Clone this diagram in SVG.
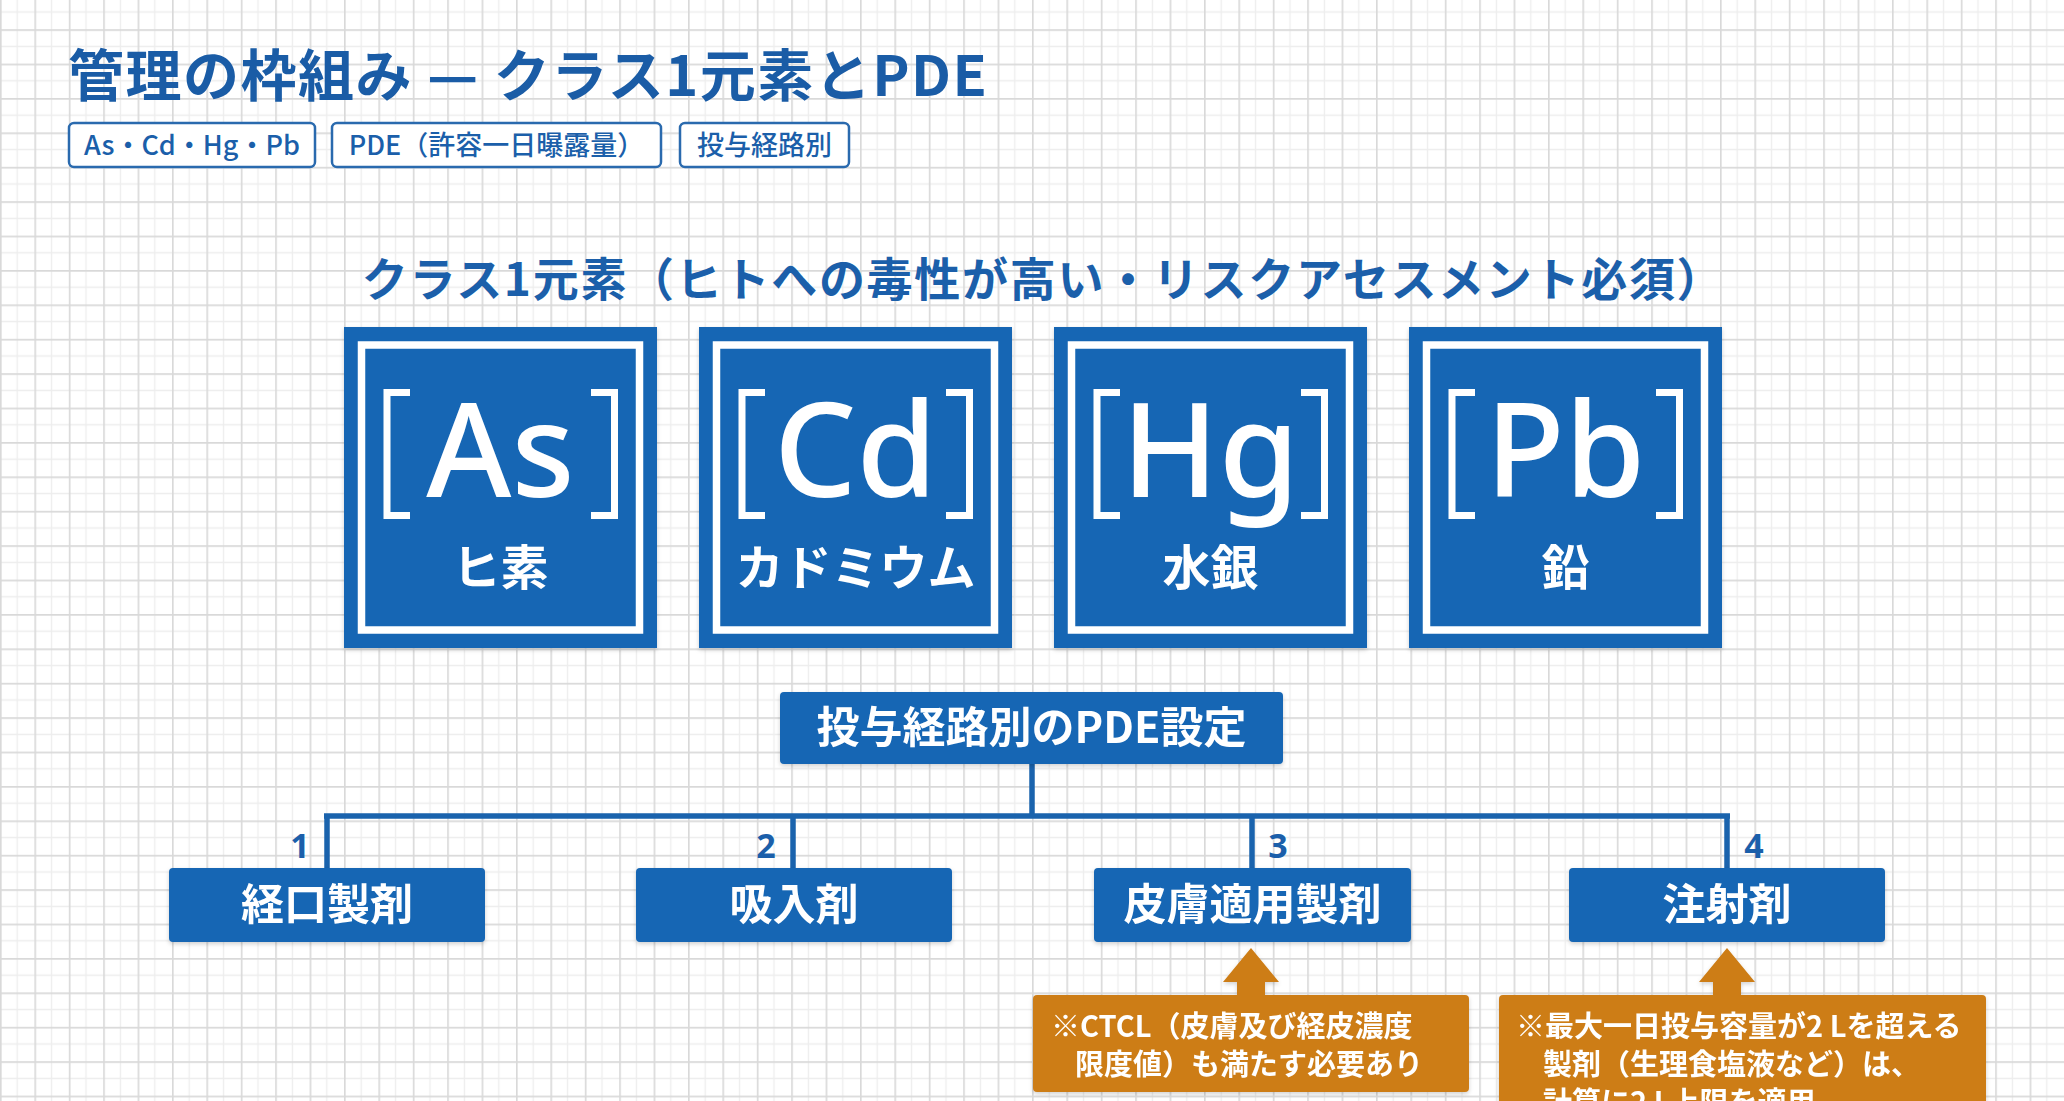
<svg xmlns="http://www.w3.org/2000/svg" width="2064" height="1101" viewBox="0 0 2064 1101">
<defs>
<pattern id="grid" x="0" y="29.2" width="34.4" height="34.4" patternUnits="userSpaceOnUse">
<path d="M17.2 0V34.4M0 17.2H34.4" stroke="#ededed" stroke-width="1.3" fill="none"/>
<path d="M0.8 0V34.4M0 0.8H34.4" stroke="#d9d9d9" stroke-width="1.7" fill="none"/>
</pattern>
<filter id="sh" x="-5%" y="-5%" width="110%" height="120%">
<feDropShadow dx="0" dy="2" stdDeviation="2" flood-color="#000" flood-opacity="0.18"/>
</filter>
<style>
.jp{font-family:"Noto Sans CJK JP","Noto Sans",sans-serif}
.title{font-size:56px;font-weight:700;fill:#1a5ca6;letter-spacing:1.5px}
.tag rect{fill:#fff;stroke:#2a6aae;stroke-width:2.5}
.tag text{font-size:27px;font-weight:500;fill:#1b5faa;text-anchor:middle}
.sub{font-size:46px;font-weight:700;fill:#1b5faa;text-anchor:middle;letter-spacing:1.7px}
.card .bg{fill:#1666b4}
.card .in{fill:none;stroke:#fff;stroke-width:7.5}
.card .br{fill:none;stroke:#fff;stroke-width:7;stroke-linejoin:miter}
.sym{font-family:"Noto Sans","Liberation Sans",sans-serif;font-size:130px;font-weight:500;fill:#fff;text-anchor:middle}
.nm{font-size:48px;font-weight:700;fill:#fff;text-anchor:middle}
.box rect{fill:#1666b4}
.box text{font-size:43px;font-weight:700;fill:#fff;text-anchor:middle}
.num{font-family:"Noto Sans","Liberation Sans",sans-serif;font-size:34px;font-weight:700;fill:#1b5faa;text-anchor:middle}
.conn line{stroke:#1a63ad;stroke-width:5.5}
.note rect,.note polygon{fill:#cd7d16}
.note text{font-size:29px;font-weight:700;fill:#fff}
</style>
</defs>
<rect width="2064" height="1101" fill="#fff"/>
<rect width="2064" height="1101" fill="url(#grid)"/>

<g id="title">
<text class="jp title" x="68" y="96">管理の枠組み — クラス1元素とPDE</text>
</g>
<g id="tag-elements" class="tag jp">
<rect x="69" y="123" width="246" height="44" rx="5"/>
<text x="192" y="155">As・Cd・Hg・Pb</text>
</g>
<g id="tag-pde" class="tag jp">
<rect x="332" y="123" width="329" height="44" rx="5"/>
<text x="496.5" y="155">PDE（許容一日曝露量）</text>
</g>
<g id="tag-route" class="tag jp">
<rect x="680" y="123" width="169" height="44" rx="5"/>
<text x="764.5" y="155">投与経路別</text>
</g>

<g id="subtitle">
<text class="jp sub" x="1043" y="296">クラス1元素（ヒトへの毒性が高い・リスクアセスメント必須）</text>
</g>

<g id="card-as" class="card" filter="url(#sh)">
<rect class="bg" x="344" y="327" width="313" height="321"/>
<rect class="in" x="361.5" y="345" width="278" height="285"/>
<polyline class="br" points="410,392.5 387,392.5 387,515.5 410,515.5"/>
<polyline class="br" points="591,392.5 614.5,392.5 614.5,515.5 591,515.5"/>
<text class="sym" x="500.5" y="497">As</text>
<text class="jp nm" x="500.5" y="585">ヒ素</text>
</g>
<g id="card-cd" class="card" filter="url(#sh)">
<rect class="bg" x="699" y="327" width="313" height="321"/>
<rect class="in" x="716.5" y="345" width="278" height="285"/>
<polyline class="br" points="765,392.5 742,392.5 742,515.5 765,515.5"/>
<polyline class="br" points="946,392.5 969.5,392.5 969.5,515.5 946,515.5"/>
<text class="sym" x="855.5" y="497">Cd</text>
<text class="jp nm" x="855.5" y="585">カドミウム</text>
</g>
<g id="card-hg" class="card" filter="url(#sh)">
<rect class="bg" x="1054" y="327" width="313" height="321"/>
<rect class="in" x="1071.5" y="345" width="278" height="285"/>
<polyline class="br" points="1120,392.5 1097,392.5 1097,515.5 1120,515.5"/>
<polyline class="br" points="1301,392.5 1324.5,392.5 1324.5,515.5 1301,515.5"/>
<text class="sym" x="1210.5" y="497">Hg</text>
<text class="jp nm" x="1210.5" y="585">水銀</text>
</g>
<g id="card-pb" class="card" filter="url(#sh)">
<rect class="bg" x="1409" y="327" width="313" height="321"/>
<rect class="in" x="1426.5" y="345" width="278" height="285"/>
<polyline class="br" points="1475,392.5 1452,392.5 1452,515.5 1475,515.5"/>
<polyline class="br" points="1656,392.5 1679.5,392.5 1679.5,515.5 1656,515.5"/>
<text class="sym" x="1565.5" y="497">Pb</text>
<text class="jp nm" x="1565.5" y="585">鉛</text>
</g>

<g id="connectors" class="conn">
<line x1="1032" y1="764" x2="1032" y2="816"/>
<line x1="324" y1="816" x2="1730" y2="816"/>
<line x1="327" y1="816" x2="327" y2="868"/>
<line x1="793" y1="816" x2="793" y2="868"/>
<line x1="1252" y1="816" x2="1252" y2="868"/>
<line x1="1727" y1="816" x2="1727" y2="868"/>
</g>
<g id="labels">
<text class="num" x="300" y="858">1</text>
<text class="num" x="766" y="858">2</text>
<text class="num" x="1278" y="858">3</text>
<text class="num" x="1754" y="858">4</text>
</g>

<g id="pde-box" class="box jp" filter="url(#sh)">
<rect x="780" y="692" width="503" height="72" rx="4"/>
<text x="1031.5" y="743">投与経路別のPDE設定</text>
</g>
<g id="route-oral" class="box jp" filter="url(#sh)">
<rect x="169" y="868" width="316" height="74" rx="4"/>
<text x="327" y="920">経口製剤</text>
</g>
<g id="route-inhal" class="box jp" filter="url(#sh)">
<rect x="636" y="868" width="316" height="74" rx="4"/>
<text x="794" y="920">吸入剤</text>
</g>
<g id="route-derm" class="box jp" filter="url(#sh)">
<rect x="1094" y="868" width="317" height="74" rx="4"/>
<text x="1252.5" y="920">皮膚適用製剤</text>
</g>
<g id="route-inj" class="box jp" filter="url(#sh)">
<rect x="1569" y="868" width="316" height="74" rx="4"/>
<text x="1727" y="920">注射剤</text>
</g>

<g id="note-ctcl" class="note jp" filter="url(#sh)">
<polygon points="1251,948 1279,982 1265,982 1265,998 1237,998 1237,982 1223,982"/>
<rect x="1033" y="995" width="436" height="97" rx="4"/>
<text x="1051" y="1037">※CTCL（皮膚及び経皮濃度</text>
<text x="1075" y="1075">限度値）も満たす必要あり</text>
</g>
<g id="note-2l" class="note jp" filter="url(#sh)">
<polygon points="1727,948 1755,982 1741,982 1741,998 1713,998 1713,982 1699,982"/>
<rect x="1499" y="995" width="487" height="140" rx="4"/>
<text x="1516" y="1037">※最大一日投与容量が2 Lを超える</text>
<text x="1543" y="1075">製剤（生理食塩液など）は、</text>
<text x="1543" y="1113">計算に2 L上限を適用</text>
</g>
</svg>
